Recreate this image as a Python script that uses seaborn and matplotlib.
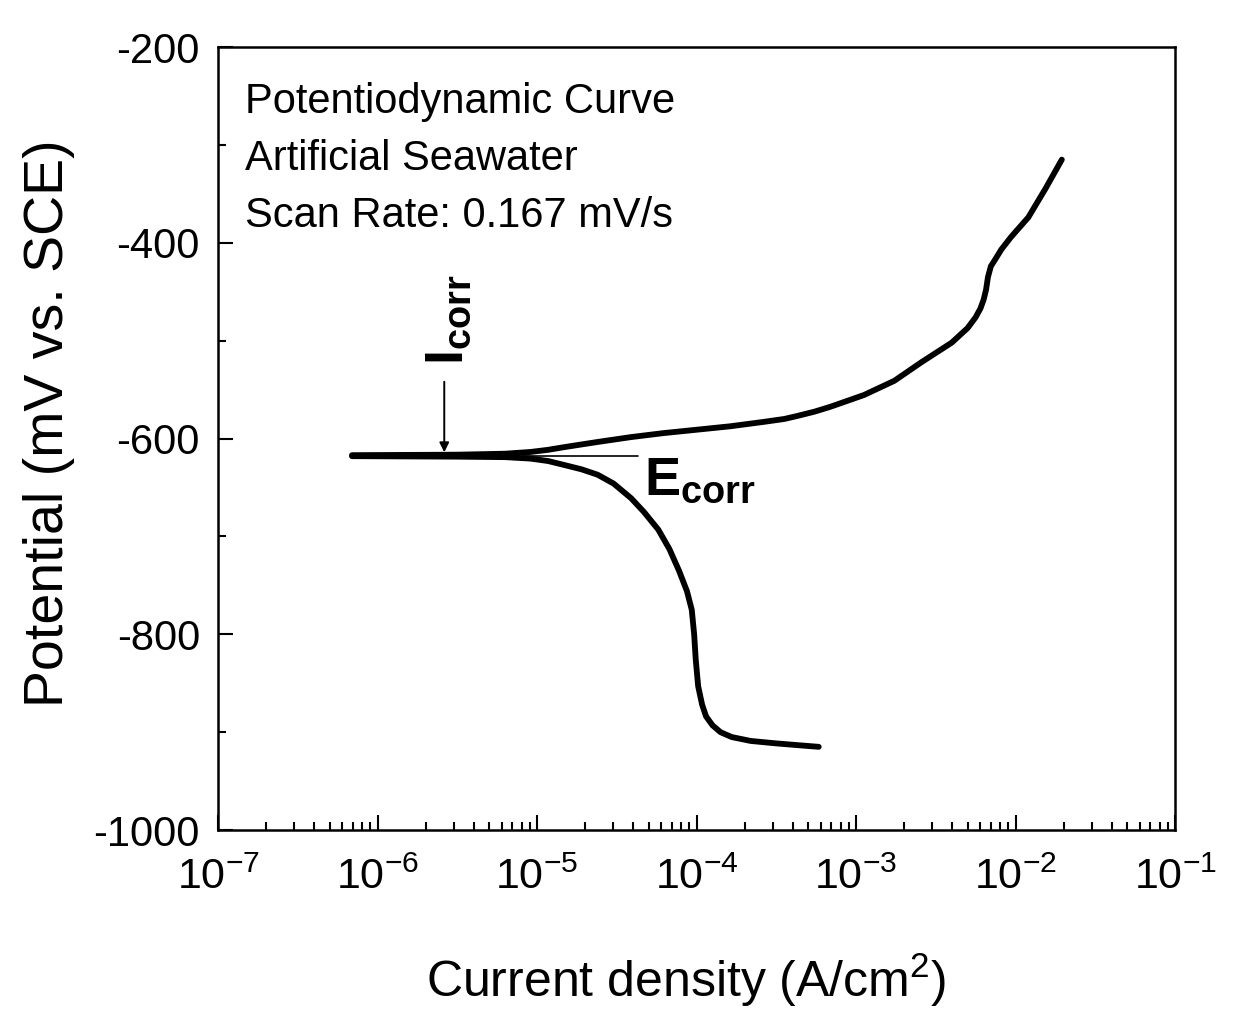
import numpy as np
import pandas as pd
import matplotlib
matplotlib.use("Agg")
import matplotlib.pyplot as plt
import seaborn as sns
from matplotlib.ticker import LogLocator, MultipleLocator, FuncFormatter, NullFormatter

# ---------------- data ----------------
anodic_log_i = [-6.16, -5.5, -5.2, -5.04, -4.93, -4.83, -4.72, -4.62, -4.41, -4.21,
                -4.0, -3.79, -3.58, -3.45, -3.37, -3.26, -3.16, -2.95, -2.76,
                -2.59, -2.40, -2.30, -2.25, -2.22, -2.20, -2.185, -2.173, -2.155,
                -2.12, -2.09, -2.028, -1.92, -1.81, -1.71]
anodic_e = [-617, -616.5, -615.5, -613.7, -611.5, -608.8, -606, -603.5, -598.5,
            -594.5, -591, -587.5, -583, -580, -577, -572.5, -567.5, -555.5, -541,
            -522, -502, -487, -476, -467, -458, -448, -435, -424, -415, -407,
            -394, -374, -344, -315]

cathodic_log_i = [-6.16, -5.5, -5.2, -5.04, -4.93, -4.83, -4.72, -4.62, -4.52,
                  -4.41, -4.33, -4.24, -4.17, -4.11, -4.06, -4.03, -4.015, -4.005,
                  -3.99, -3.965, -3.94, -3.90, -3.85, -3.78, -3.66, -3.5, -3.35,
                  -3.234]
cathodic_e = [-618, -618.5, -619, -620.5, -623, -627, -631.5, -637, -646, -661,
              -675, -693, -713, -735, -756, -775, -800, -826, -853, -872, -884,
              -893, -900, -905, -909, -911.5, -913.5, -915]

e_corr = -618
i_corr = 2.62e-6
ecorr_line_x = [8e-6, 4.27e-5]
icorr_arrow_from = -542
icorr_arrow_to = -614

info_lines = ["Potentiodynamic Curve", "Artificial Seawater", "Scan Rate: 0.167 mV/s"]
x_label = "Current density (A/cm$^2$)"
y_label = "Potential (mV vs. SCE)"
y_ticks = [-1000, -800, -600, -400, -200]

anodic = pd.DataFrame({"i": 10.0 ** np.array(anodic_log_i), "E": anodic_e})
cathodic = pd.DataFrame({"i": 10.0 ** np.array(cathodic_log_i), "E": cathodic_e})

# ---------------- style ----------------
sns.set_theme(style="ticks")
plt.rcParams["font.family"] = ["Liberation Sans", "DejaVu Sans"]
plt.rcParams["mathtext.fontset"] = "custom"
plt.rcParams["mathtext.rm"] = "Liberation Sans"
plt.rcParams["mathtext.it"] = "Liberation Sans:italic"
plt.rcParams["mathtext.bf"] = "Liberation Sans:bold"
plt.rcParams["mathtext.default"] = "regular"
plt.rcParams["axes.unicode_minus"] = False
for k in ["text.color", "axes.labelcolor", "xtick.color", "ytick.color", "axes.edgecolor"]:
    plt.rcParams[k] = "black"

fig = plt.figure(figsize=(12.36, 10.10), dpi=100)
ax = fig.add_axes([0.1764, 0.1782, 0.7743, 0.7752])
ax.set_xscale("log")

sns.lineplot(data=anodic, x="i", y="E", ax=ax, sort=False, estimator=None,
             color="black", linewidth=4.2, solid_capstyle="round", solid_joinstyle="round")
sns.lineplot(data=cathodic, x="i", y="E", ax=ax, sort=False, estimator=None,
             color="black", linewidth=4.2, solid_capstyle="round", solid_joinstyle="round")

# Ecorr thin line
ax.plot(ecorr_line_x, [e_corr, e_corr], color="black", linewidth=1.2)

# Icorr arrow
ax.annotate("", xy=(i_corr, icorr_arrow_to), xytext=(i_corr, icorr_arrow_from),
            arrowprops=dict(arrowstyle="-|>", color="black", lw=1.4,
                            mutation_scale=14, shrinkA=0, shrinkB=0))

ax.text(2.78e-6, -479, r"$\mathbf{I_{corr}}$", rotation=90, fontsize=39,
        ha="center", va="center", color="black")
ax.text(1.05e-4, -643, r"$\mathbf{E_{corr}}$", fontsize=39,
        ha="center", va="center", color="black")

baselines = [0.9157, 0.8429, 0.7701]
for line, yb in zip(info_lines, baselines):
    ax.text(0.0282, yb, line, transform=ax.transAxes, fontsize=30,
            ha="left", va="baseline", color="black")

ax.set_xlim(1e-7, 1e-1)
ax.set_ylim(-1000, -200)

ax.xaxis.set_major_locator(LogLocator(base=10, numticks=10))
ax.xaxis.set_minor_locator(LogLocator(base=10, subs=np.arange(2, 10), numticks=100))
ax.xaxis.set_minor_formatter(NullFormatter())
ax.xaxis.set_major_formatter(FuncFormatter(lambda v, p: r"$10^{%d}$" % int(round(np.log10(v)))))
ax.set_yticks(y_ticks)
ax.yaxis.set_minor_locator(MultipleLocator(100))

ax.tick_params(which="both", direction="in", top=False, right=False,
               width=1.5, colors="black")
ax.tick_params(which="major", length=11)
ax.tick_params(which="minor", length=6)
ax.tick_params(axis="y", labelsize=30, pad=13)
ax.tick_params(axis="x", labelsize=31, pad=20)

for s in ax.spines.values():
    s.set_linewidth(1.8)
    s.set_color("black")

ax.set_xlabel(x_label, fontsize=36, color="black")
ax.set_ylabel(y_label, fontsize=40, color="black")
ax.xaxis.set_label_coords(0.4896, -0.155)
ax.yaxis.set_label_coords(-0.149, 0.52)

fig.savefig("out.png", dpi=100, facecolor="white")
